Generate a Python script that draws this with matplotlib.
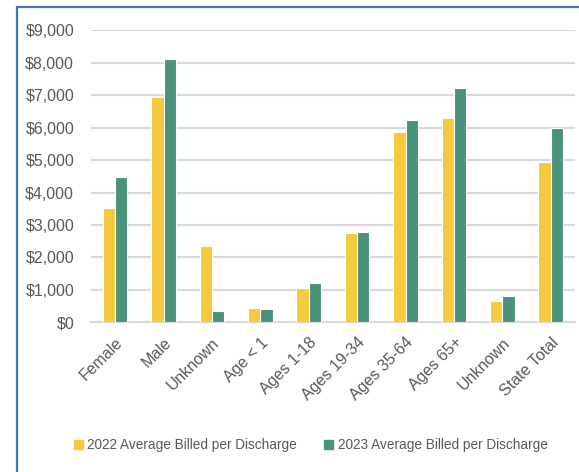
import numpy as np
import matplotlib.pyplot as plt
from matplotlib.patches import Rectangle, Patch
from matplotlib.ticker import FuncFormatter

categories = ["Female", "Male", "Unknown", "Age < 1", "Ages 1-18", "Ages 19-34",
              "Ages 35-64", "Ages 65+", "Unknown", "State Total"]
billed_2022 = [3510, 6940, 2350, 440, 1050, 2760, 5860, 6310, 655, 4930]
billed_2023 = [4475, 8120, 360, 410, 1200, 2790, 6220, 7215, 810, 5985]
series_labels = ["2022 Average Billed per Discharge", "2023 Average Billed per Discharge"]

yellow = "#F4CA3B"
green = "#4A937A"
text_gray = "#595959"

plt.rcParams["font.family"] = ["Liberation Sans", "DejaVu Sans"]

fig = plt.figure(figsize=(5.79, 4.72), dpi=100)
ax = fig.add_axes([0.157, 0.317, 0.836, 0.619])

x = np.arange(len(categories))
w = 0.255
ax.bar(x - w / 2, billed_2022, width=w, color=yellow, edgecolor="white", linewidth=0.8, zorder=3)
ax.bar(x + w / 2, billed_2023, width=w, color=green, edgecolor="white", linewidth=0.8, zorder=3)

ax.set_xlim(-0.5, len(categories) - 0.5)
ax.set_ylim(0, 9000)
ax.set_yticks(np.arange(0, 9001, 1000))
ax.yaxis.set_major_formatter(FuncFormatter(lambda v, p: f"${v:,.0f}"))
ax.grid(axis="y", color="#D9D9D9", linewidth=1.5, zorder=0)

for s in ["top", "right", "left"]:
    ax.spines[s].set_visible(False)
ax.spines["bottom"].set_color("#D9D9D9")
ax.spines["bottom"].set_linewidth(1.5)
ax.tick_params(length=0, labelsize=11.5, colors=text_gray, pad=12)
ax.tick_params(axis="x", pad=9)

ax.set_xticks(x)
ax.set_xticklabels(categories, rotation=45, ha="right", rotation_mode="anchor", fontsize=11.5)

handles = [Patch(color=yellow), Patch(color=green)]
fig.legend(handles, series_labels, loc="center", bbox_to_anchor=(0.537, 0.057), ncol=2,
           frameon=False, handlelength=0.65, handleheight=0.65,
           handletextpad=0.35, columnspacing=2.0,
           prop={"family": ["Liberation Sans", "DejaVu Sans"], "size": 9.8},
           labelcolor=text_gray)

fig.add_artist(Rectangle((17 / 579, -0.1), 1.2, 1 - 7 / 472 + 0.1, transform=fig.transFigure,
                         fill=False, edgecolor="#4472C4", linewidth=1.6))

fig.savefig("out.png", dpi=100)
